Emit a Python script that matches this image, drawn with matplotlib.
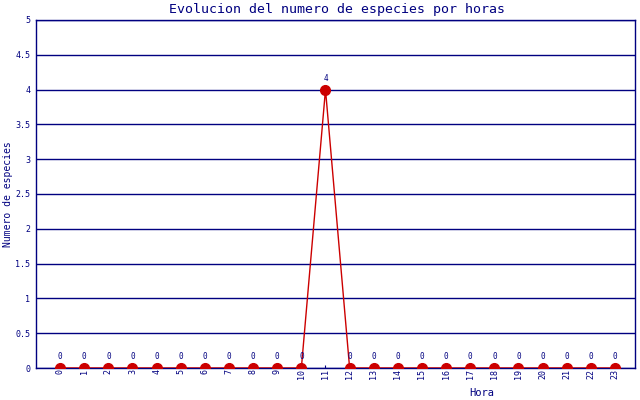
import matplotlib
matplotlib.use("Agg")
import matplotlib.pyplot as plt

hours = list(range(24))
species = [0,0,0,0,0,0,0,0,0,0,0,4,0,0,0,0,0,0,0,0,0,0,0,0]
y_ticks = [0, 0.5, 1, 1.5, 2, 2.5, 3, 3.5, 4, 4.5, 5]
y_tick_labels = ["0", "0.5", "1", "1.5", "2", "2.5", "3", "3.5", "4", "4.5", "5"]

navy = "#000080"
red = "#cc0000"
font = "DejaVu Sans Mono"

fig = plt.figure(figsize=(6.4, 4.0), dpi=100)
ax = fig.add_axes([36/640, 32/400, (635-36)/640, (368-20)/400])

ax.plot(hours, species, color=red, lw=1.0, marker="o", ms=7, mfc=red, mec=red, zorder=3)
for h, v in zip(hours, species):
    if v == 0 and h == 11:
        continue
    ax.annotate(str(v), (h, v), xytext=(0, 5), textcoords="offset points",
                ha="center", va="bottom", fontsize=5.5, color=navy, family=font)

ax.set_xlim(-1, 23.83)
ax.set_ylim(0, 5)
ax.set_yticks(y_ticks)
ax.set_yticklabels(y_tick_labels, fontsize=6, color=navy, family=font)
ax.set_xticks(hours)
ax.set_xticklabels([str(h) for h in hours], rotation=90, fontsize=6, color=navy, family=font)
ax.tick_params(axis="y", length=0, pad=4)
ax.tick_params(axis="x", direction="in", length=2, color=navy, pad=1)
ax.grid(axis="y", color=navy, lw=1.0)
ax.set_axisbelow(True)
for s in ax.spines.values():
    s.set_color(navy)
    s.set_linewidth(1.0)

fig.text(8/640, 1 - 194/400, "Numero de especies", fontsize=7, color=navy, family=font,
         rotation=90, ha="center", va="center")
fig.text(482/640, 1 - 393/400, "Hora", fontsize=7.5, color=navy, family=font, ha="center", va="center")
fig.text(337/640, 1 - 9/400, "Evolucion del numero de especies por horas", fontsize=9.5,
         color=navy, family=font, ha="center", va="center")

fig.savefig("out.png", dpi=100)
